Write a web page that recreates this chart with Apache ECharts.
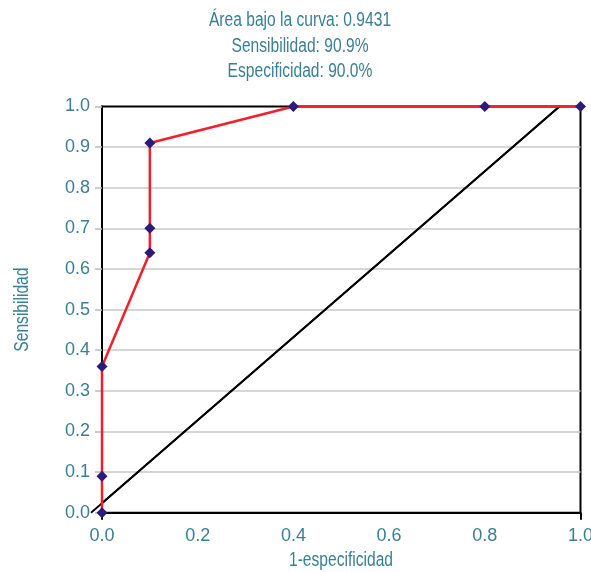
<!DOCTYPE html>
<html>
<head>
<meta charset="utf-8">
<script src="https://cdn.jsdelivr.net/npm/echarts@6/dist/echarts.min.js"></script>
<style>
html,body{margin:0;padding:0;background:#fff;}
#chart{width:591px;height:572px;}
</style>
</head>
<body>
<div id="chart"></div>
<script>
// ROC curve points: 1-especificidad (x) and sensibilidad (y)
var rocX = [0.0, 0.0, 0.0, 0.1, 0.1, 0.1, 0.4, 0.8, 1.0];
var rocY = [0.0, 0.09, 0.36, 0.64, 0.70, 0.91, 1.0, 1.0, 1.0];
// Reference (diagonal) line endpoints as drawn
var refX = [-0.023, 0.956];
var refY = [0.0, 1.0];
var titleLines = ['Área bajo la curva: 0.9431', 'Sensibilidad: 90.9%', 'Especificidad: 90.0%'];
var xAxisName = '1-especificidad';
var yAxisName = 'Sensibilidad';
var xTicks = [0, 0.2, 0.4, 0.6, 0.8, 1.0];
var yTicks = [0, 0.1, 0.2, 0.3, 0.4, 0.5, 0.6, 0.7, 0.8, 0.9, 1.0];

var FONT = '"Liberation Sans", Arial, sans-serif';
var TEAL = '#3a7f95';
var NARROW = 0.78;

var chart = echarts.init(document.getElementById('chart'), null, {renderer: 'canvas'});
chart.setOption({
  animation: false,
  backgroundColor: '#fff',
  grid: {
    left: 102, right: 10.5, top: 106.5, bottom: 59.3,
    outerBoundsMode: 'none', containLabel: false,
    show: true, borderColor: '#000', borderWidth: 2, backgroundColor: 'transparent'
  },
  xAxis: {
    type: 'value', min: xTicks[0], max: xTicks[xTicks.length - 1], interval: 0.2,
    axisLine: {show: true, onZero: false, lineStyle: {color: '#000', width: 2}},
    axisTick: {show: true, customValues: [xTicks[0], xTicks[xTicks.length - 1]], length: 7,
      lineStyle: {color: '#000', width: 2}},
    axisLabel: {color: TEAL, fontFamily: FONT, fontSize: 18, margin: 14,
      formatter: function (v) { return v.toFixed(1); }},
    splitLine: {show: true, showMinLine: false, showMaxLine: false, lineStyle: {color: '#c8c8c8', width: 1.5}}
  },
  yAxis: {
    type: 'value', min: yTicks[0], max: yTicks[yTicks.length - 1], interval: 0.1,
    axisLine: {show: true, onZero: false, lineStyle: {color: '#000', width: 2}},
    axisTick: {show: true, length: 7, lineStyle: {color: '#bbbbbb', width: 1.5}},
    axisLabel: {color: TEAL, fontFamily: FONT, fontSize: 18, margin: 12,
      formatter: function (v) { return v.toFixed(1); }},
    splitLine: {show: true, showMinLine: false, showMaxLine: false, lineStyle: {color: '#c8c8c8', width: 1.5}}
  },
  series: [
    {
      type: 'line', name: 'ref', clip: false, silent: true,
      data: refX.map(function (x, i) { return [x, refY[i]]; }),
      symbol: 'none',
      lineStyle: {color: '#000', width: 1.8}
    },
    {
      type: 'line', name: 'ROC', clip: false, z: 3,
      data: rocX.map(function (x, i) { return [x, rocY[i]]; }),
      symbol: 'diamond', symbolSize: 11,
      itemStyle: {color: '#2e1a78'},
      lineStyle: {color: '#f0202a', width: 2.5}
    }
  ]
});

// Diagonal drawn again through the chart's own scale, so its end outside the axis shows too
var refPts = refX.map(function (x, i) {
  return chart.convertToPixel({gridIndex: 0}, [x, refY[i]]);
});
chart.setOption({
  graphic: [
    {
      type: 'polyline', z: 2, silent: true,
      shape: {points: refPts},
      style: {stroke: '#000', lineWidth: 1.8, fill: null}
    },
    {
      type: 'text', x: 300, y: 8, scaleX: NARROW, z: 10,
      style: {text: titleLines.join('\n'), fill: TEAL, font: '20px ' + FONT,
        align: 'center', verticalAlign: 'top', lineHeight: 25.5}
    },
    {
      type: 'text', x: 341, y: 550, scaleX: NARROW, z: 10,
      style: {text: xAxisName, fill: TEAL, font: '20px ' + FONT,
        align: 'center', verticalAlign: 'top'}
    },
    {
      type: 'text', x: 12, y: 309.6, rotation: Math.PI / 2, scaleX: NARROW, z: 10,
      style: {text: yAxisName, fill: TEAL, font: '20px ' + FONT,
        align: 'center', verticalAlign: 'top'}
    }
  ]
});
</script>
</body>
</html>
